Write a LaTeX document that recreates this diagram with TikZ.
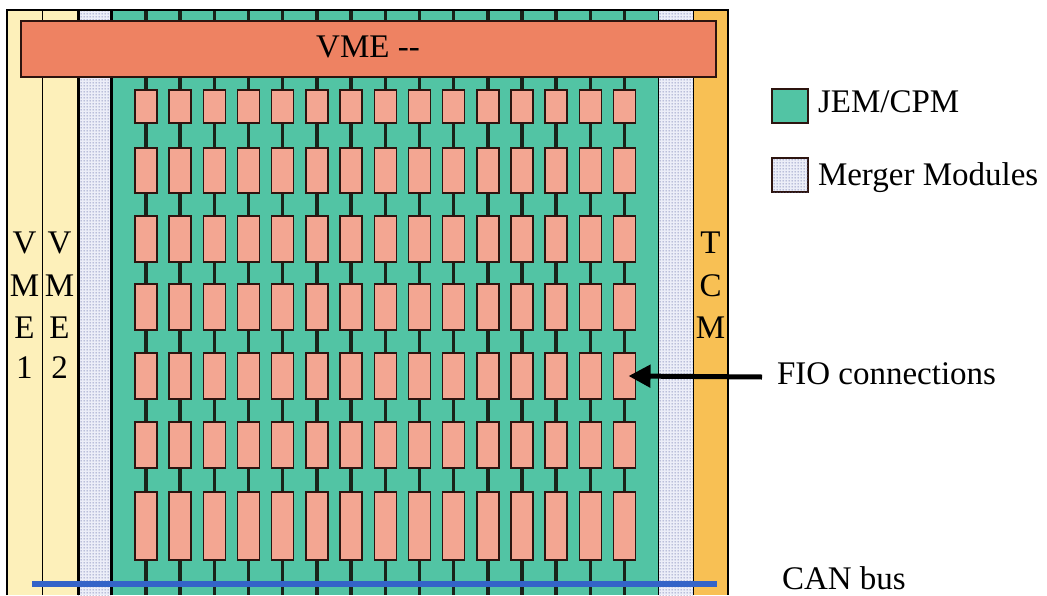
\documentclass[tikz,border=0pt]{standalone}
\usepackage{fontspec}
\setmainfont{Liberation Serif}
\usetikzlibrary{patterns,arrows.meta}
\definecolor{vmeyel}{RGB}{253,240,186}
\definecolor{tcmor}{RGB}{248,192,84}
\definecolor{jemgreen}{RGB}{82,196,164}
\definecolor{barcoral}{RGB}{238,130,98}
\definecolor{fiopink}{RGB}{243,166,146}
\definecolor{canblue}{RGB}{52,100,200}
\definecolor{dotblue}{RGB}{95,105,165}
\definecolor{mergerbg}{RGB}{236,238,248}
\definecolor{darkline}{RGB}{25,35,25}
\definecolor{rimbrown}{RGB}{45,20,15}
\pgfdeclarepatternformonly{mdots}{\pgfqpoint{-1pt}{-1pt}}{\pgfqpoint{2pt}{2pt}}{\pgfqpoint{3pt}{3pt}}{%
  \pgfpathcircle{\pgfqpoint{0.5pt}{0.5pt}}{0.75pt}\pgfusepath{fill}}
\begin{document}
\begin{tikzpicture}[x=1pt,y=-1pt,
  lbl/.style={font=\fontsize{33}{33}\selectfont, inner sep=0pt, outer sep=0pt},
  rbox/.style={draw=rimbrown, line width=1.4pt, fill=fiopink, minimum width=22pt, inner sep=0pt, outer sep=0pt},
  mergerfill/.style={fill=mergerbg, postaction={pattern=mdots, pattern color=dotblue}},
  vline/.style={darkline, line width=3.4pt}]
\useasboundingbox (0,0) rectangle (1047,595);
% background columns
\fill[vmeyel] (7,10) rectangle (77,595);
\path[mergerfill] (78,10) rectangle (111,595);
\fill[jemgreen] (111,10) rectangle (658,595);
\path[mergerfill] (658,10) rectangle (693,595);
\fill[tcmor] (693,10) rectangle (728,595);
% vertical connection lines
\foreach \i in {1,...,15} {
  \pgfmathsetmacro\xx{146+34.18*(\i-1)}
  \draw[vline] (\xx,10) -- (\xx,595);
}
% separators and frame
\draw[line width=1.2pt] (7,595) -- (7,10) -- (728,10) -- (728,595);
\draw[line width=1pt] (42,10) -- (42,595);
\draw[line width=3pt] (78.5,10) -- (78.5,595);
\draw[line width=2.2pt] (111.5,10) -- (111.5,595);
\draw[line width=1pt] (658,10) -- (658,595);
\draw[line width=1pt] (693,10) -- (693,595);
% VME bar
\node[draw=rimbrown, line width=1.4pt, fill=barcoral, minimum width=695pt, minimum height=56pt, inner sep=0pt] (vmebar) at (368.5,49) {};
\node[lbl, anchor=base] (vmetxt) at (368,57) {VME \mbox{-}\mbox{-}};
% FIO rectangles
\foreach \row/\top/\bot in {1/90/123, 2/148/193, 3/216/262, 4/284/330, 5/353/399, 6/422/468, 7/492/560} {
  \foreach \i in {1,...,15} {
    \pgfmathsetmacro\xx{146+34.18*(\i-1)}
    \pgfmathsetmacro\yc{(\top+\bot)/2}
    \pgfmathsetmacro\hh{\bot-\top}
    \node[rbox, minimum height=\hh pt] (r\row-\i) at (\xx,\yc) {};
  }
}
% CAN bus
\coordinate (canL) at (32,584);
\coordinate (canR) at (717,584);
\draw[canblue, line width=6pt] (canL) -- (canR);
% VME1 / VME2 / TCM letters
\foreach \ch/\yb [count=\k] in {V/253, M/296, E/338, 1/378} {
  \node[lbl, anchor=base] (va\k) at (24.5,\yb) {\ch};
}
\foreach \ch/\yb [count=\k] in {V/253, M/296, E/338, 2/378} {
  \node[lbl, anchor=base] (vb\k) at (59.5,\yb) {\ch};
}
\foreach \ch/\yb [count=\k] in {T/253, C/296, M/338} {
  \node[lbl, anchor=base] (tc\k) at (710.5,\yb) {\ch};
}
% legend
\node[draw=rimbrown, line width=1.4pt, fill=jemgreen, minimum width=36pt, minimum height=34pt, inner sep=0pt] (legjem) at (790,106) {};
\node[lbl, anchor=base west] (jemlbl) at (818,112) {JEM/CPM};
\node[draw=rimbrown, line width=1.4pt, mergerfill, minimum width=36pt, minimum height=34pt, inner sep=0pt] (legmrg) at (790,175) {};
\node[lbl, anchor=base west] (mrglbl) at (818,185) {Merger Modules};
% FIO arrow
\node[lbl, anchor=base west] (fiolbl) at (777,384) {FIO connections};
\coordinate (fiotail) at (762,377);
\draw[line width=5pt, -{Triangle[length=22pt,width=22pt]}] (fiotail) -- ([xshift=4pt]r5-15.center);
% CAN bus label
\node[lbl, anchor=base west] (canlbl) at (782,589) {CAN bus};
\end{tikzpicture}
\end{document}
